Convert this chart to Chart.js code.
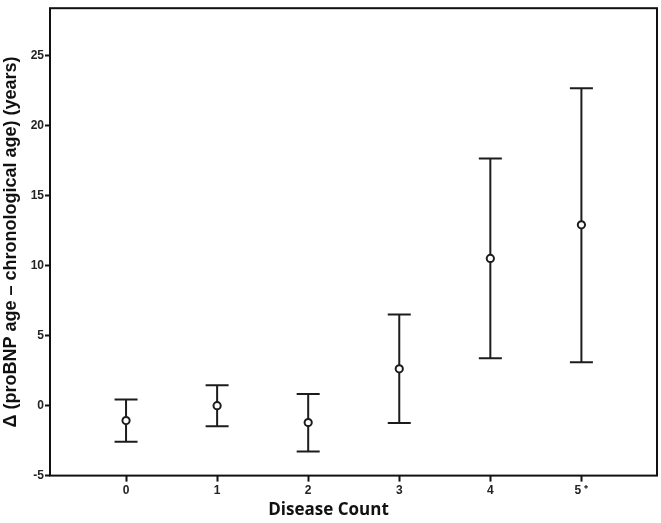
<!DOCTYPE html>
<html>
<head>
<meta charset="utf-8">
<script src="https://cdn.jsdelivr.net/npm/chart.js@4.4.1/dist/chart.umd.min.js"></script>
<style>
  html, body { margin: 0; padding: 0; background: #fff; }
  #wrap { width: 661px; height: 523px; }
</style>
</head>
<body>
<div id="wrap"><canvas id="grafico"></canvas></div>
<script>
const categorias = ['0', '1', '2', '3', '4', '5 \u207A'];
const medias = [-1.07, -0.01, -1.21, 2.62, 10.5, 12.9];
const limInferior = [-2.58, -1.47, -3.28, -1.24, 3.37, 3.09];
const limSuperior = [0.43, 1.45, 0.83, 6.5, 17.63, 22.64];
const ticksY = [-5, 0, 5, 10, 15, 20, 25];

const corLinha = '#1c1c1c';

// uma linha por categoria: do limite inferior ao superior, com as "tampas"
const barrasErro = categorias.map((c, i) => ({
    type: 'scatter',
    data: [{ x: i, y: limInferior[i] }, { x: i, y: limSuperior[i] }],
    showLine: true,
    borderColor: corLinha,
    borderWidth: 2,
    pointStyle: 'line',
    pointRadius: 11.5,
    pointBorderWidth: 2,
    pointBorderColor: corLinha,
    pointHoverRadius: 11.5,
    order: 2
}));

const pontosMedia = {
    type: 'scatter',
    data: medias.map((m, i) => ({ x: i, y: m })),
    pointStyle: 'circle',
    pointRadius: 3.6,
    pointBorderWidth: 2,
    pointBorderColor: corLinha,
    pointBackgroundColor: '#ffffff',
    order: 1
};

const moldura = {
    id: 'moldura',
    afterDraw(chart) {
        const a = chart.chartArea;
        const ctx = chart.ctx;
        ctx.save();
        ctx.strokeStyle = '#111';
        ctx.lineWidth = 2;
        ctx.strokeRect(a.left, a.top, a.right - a.left, a.bottom - a.top);
        ctx.restore();
    }
};

const ctx = document.getElementById('grafico').getContext('2d');
new Chart(ctx, {
    type: 'scatter',
    data: { datasets: [...barrasErro, pontosMedia] },
    options: {
        responsive: true,
        maintainAspectRatio: false,
        animation: false,
        layout: { autoPadding: false, padding: { top: 3, right: 4, left: 0, bottom: 0 } },
        plugins: {
            legend: { display: false },
            tooltip: { enabled: false },
            title: {
                display: true,
                position: 'bottom',
                text: 'Disease Count',
                color: '#111',
                font: { family: 'Open Sans', size: 17, weight: 'bold' },
                padding: { top: 0, bottom: 3 }
            }
        },
        scales: {
            x: {
                type: 'linear',
                min: -0.835,
                max: 5.83,
                afterBuildTicks(axis) {
                    axis.ticks = categorias.map((c, i) => ({ value: i }));
                },
                afterFit(axis) { axis.height = 24; },
                grid: { display: true, drawOnChartArea: false, drawTicks: true, tickLength: 6, tickColor: '#111', tickWidth: 2 },
                border: { display: false },
                ticks: {
                    callback: (v) => categorias[v],
                    color: '#222',
                    padding: 2,
                    maxRotation: 0,
                    font: { family: 'Liberation Sans', size: 12, weight: 'bold' }
                }
            },
            y: {
                min: -5,
                max: 28.36,
                afterBuildTicks(axis) {
                    axis.ticks = ticksY.map(v => ({ value: v }));
                },
                afterFit(axis) { axis.width = 50; },
                grid: { display: true, drawOnChartArea: false, drawTicks: true, tickLength: 5, tickColor: '#111', tickWidth: 2 },
                border: { display: false },
                ticks: {
                    color: '#222',
                    padding: 1,
                    font: { family: 'Liberation Sans', size: 12, weight: 'bold' }
                },
                title: {
                    display: true,
                    text: 'Δ (proBNP age – chronological age) (years)',
                    color: '#111',
                    font: { family: 'Liberation Sans', size: 18, weight: 'bold' },
                    padding: { top: 0, bottom: 0 }
                }
            }
        }
    },
    plugins: [moldura]
});
</script>
</body>
</html>
